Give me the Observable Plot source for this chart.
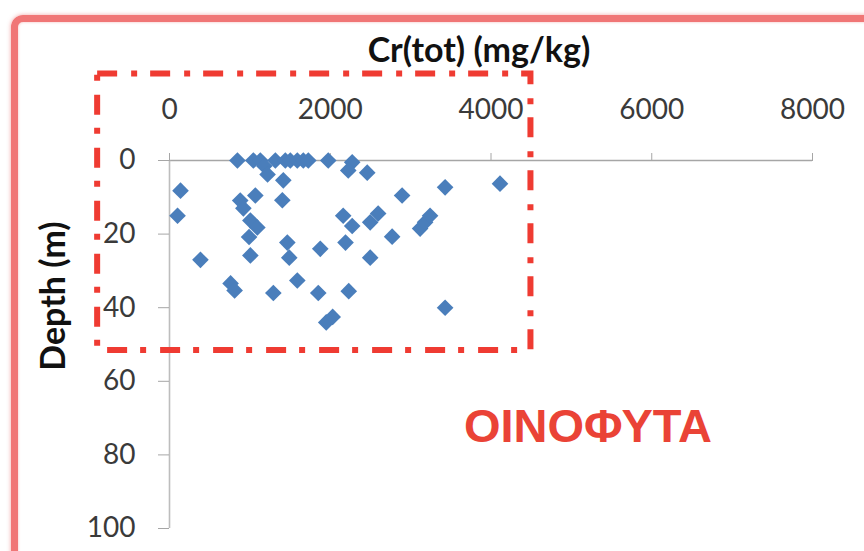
<!DOCTYPE html>
<html>
<head>
<meta charset="utf-8">
<script src="https://cdn.jsdelivr.net/npm/d3@7"></script>
<script src="https://cdn.jsdelivr.net/npm/@observablehq/plot@0.6"></script>
<style>
  html, body { margin: 0; padding: 0; background: #fff; }
  #wrap { position: relative; width: 864px; height: 551px; overflow: hidden; background: #fff; }
  #frame { position: absolute; left: 11px; top: 15px; width: 900px; height: 600px;
           border: 7px solid #f07676; border-radius: 12px;
           box-shadow: 0 0 4px rgba(230,90,90,0.55), inset 0 0 3px rgba(230,90,90,0.4); }
  #chart { position: absolute; left: 0; top: 0; }
  .title { position: absolute; font-family: Lato, "Open Sans", sans-serif; font-weight: bold; color: #111; white-space: nowrap; }
  #xtitle { left: 479px; top: 28px; font-size: 34px; transform: translateX(-50%); }
  #ytitle { left: 51px; top: 296px; font-size: 34px; transform: translate(-50%, -50%) rotate(-90deg); }
  #place { position: absolute; left: 464px; top: 398px; font-family: "Liberation Sans", Arial, sans-serif;
           font-weight: bold; font-size: 47px; color: #ea4336; white-space: nowrap; }
</style>
</head>
<body>
<div id="wrap">
  <div id="frame"></div>
  <div id="chart"></div>
  <div class="title" id="xtitle">Cr(tot) (mg/kg)</div>
  <div class="title" id="ytitle">Depth (m)</div>
  <div id="place">ΟΙΝΟΦΥΤΑ</div>
</div>
<script>
// Cr(tot) concentration (mg/kg) and depth (m) of each sample
const crValues = [
  845, 1043, 1130, 1317, 1441, 1503, 1590, 1665, 1727, 1975, 2273,
  1180, 1220, 1416, 2224, 2460,
  137, 100, 880, 919, 1068, 1404, 1006, 1093, 990, 1466, 1876,
  2161, 2273, 2497, 2596, 2770, 2894, 3118, 3180, 3242, 3429, 4112, 2190,
  385, 1006, 1490, 2497, 760, 810, 1292, 1590, 1851, 2230, 1950, 2030, 3429
];
const depthValues = [
  0, 0, 0, 0, 0, 0, 0, 0, 0, 0, 0.5,
  1.5, 3.8, 5.4, 2.7, 3.3,
  8.2, 15, 10.9, 13, 9.5, 10.8, 16.3, 18.2, 20.8, 22.3, 24,
  15, 17.8, 16.8, 14.4, 20.7, 9.5, 18.5, 16.8, 15, 7.3, 6.3, 22.3,
  27, 25.8, 26.4, 26.4, 33.4, 35.3, 36, 32.6, 36, 35.5, 44, 42.5, 40
];
const xTicks = [0, 2000, 4000, 6000, 8000];
const yTicks = [0, 20, 40, 60, 80, 100];
// highlighted region (dash-dot box), in data units
const boxX = [-894, 4497];
const boxY = [-23.5, 51.6];

const samples = crValues.map((v, i) => ({cr: v, depth: depthValues[i]}));
const box = [{x1: boxX[0], x2: boxX[1], y1: boxY[0], y2: boxY[1]}];

const plot = Plot.plot({
  width: 864,
  height: 551,
  marginLeft: 169,
  marginRight: 52,
  marginTop: 160,
  marginBottom: 23,
  style: {background: "transparent", overflow: "visible"},
  x: {domain: [0, 8000]},
  y: {domain: [0, 100], reverse: true},
  marks: [
    Plot.ruleY([0], {stroke: "#a6a6a6", strokeWidth: 1.6}),
    Plot.ruleX([0], {stroke: "#bdbdbd", strokeWidth: 1.6}),
    Plot.axisX({anchor: "top", ticks: xTicks, tickSize: 8, tickPadding: 34, stroke: "#a6a6a6",
      fill: "#3a3a3a", fontSize: 28, fontFamily: "Lato, 'Open Sans', sans-serif", label: null, tickFormat: d => String(d)}),
    Plot.axisY({anchor: "left", ticks: yTicks, tickSize: 11, tickPadding: 23, stroke: "#a6a6a6",
      fill: "#3a3a3a", fontSize: 28, fontFamily: "Lato, 'Open Sans', sans-serif", label: null, tickFormat: d => String(d)}),
    Plot.dot(samples, {x: "cr", y: "depth", symbol: "diamond2", r: 7.5, fill: "#4a7ebb", stroke: "none"}),
    Plot.rect(box, {x1: "x1", x2: "x2", y1: "y1", y2: "y2", fill: "none", stroke: "#ef3b32",
      strokeWidth: 6, strokeDasharray: "20,14,6,13", clip: false})
  ]
});
document.getElementById("chart").appendChild(plot);
</script>
</body>
</html>
